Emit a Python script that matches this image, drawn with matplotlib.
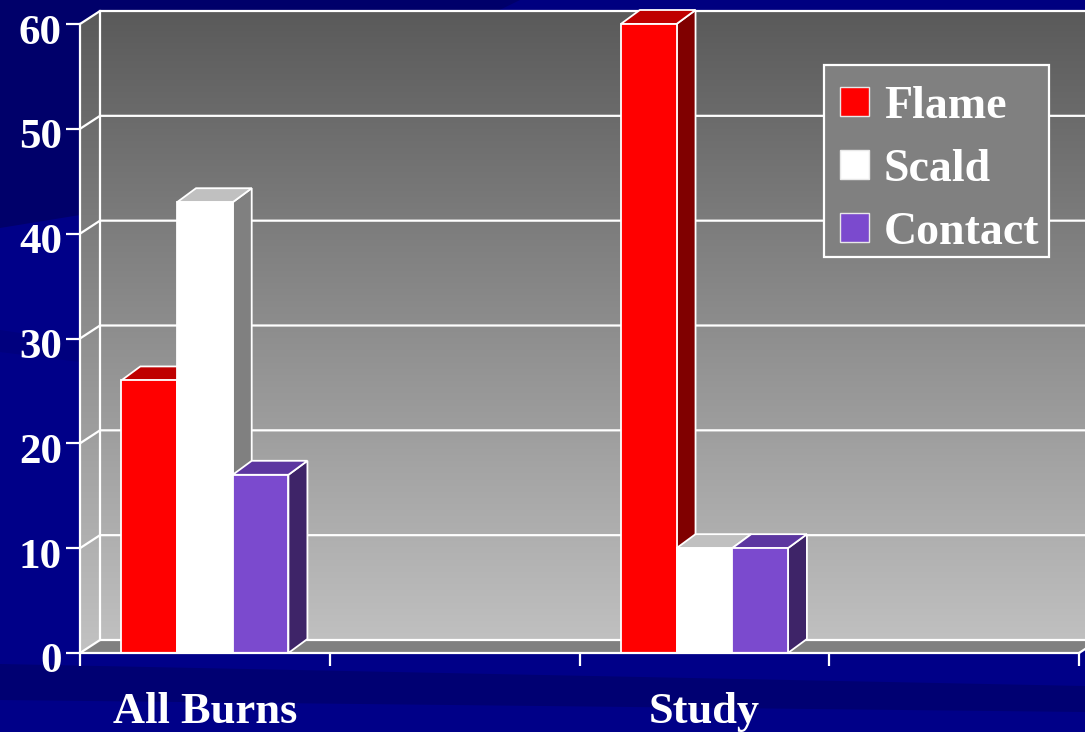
import numpy as np
import matplotlib
matplotlib.use("Agg")
import matplotlib.pyplot as plt
from matplotlib.patches import Polygon, Rectangle
from matplotlib.colors import LinearSegmentedColormap
from matplotlib.transforms import Affine2D

# ---- data ----
categories = ["All Burns", "Study"]
series = ["Flame", "Scald", "Contact"]
flame = [26, 60]
scald = [43, 10]
contact = [17, 10]
yticks = [0, 10, 20, 30, 40, 50, 60]

# ---- styling ----
W, H, DPI = 1085, 732, 100
FONT = "Liberation Serif"
front_colors = ["#FF0000", "#FFFFFF", "#7B4ACE"]
top_colors = ["#BF0000", "#C0C0C0", "#5C36A0"]
side_colors = ["#800000", "#808080", "#3E2468"]
values = [flame, scald, contact]

fig = plt.figure(figsize=(W / DPI, H / DPI), dpi=DPI)
fig.patch.set_facecolor("#000088")


def fpx(pts):
    """pixel (x right, y down) -> figure fraction"""
    return [(x / W, 1 - y / H) for x, y in pts]


# background streaks
for pts, col in [
    ([(0, 0), (1085, 0), (1085, 12), (0, 12)], "#000080"),
    ([(0, 0), (520, 0), (80, 215), (0, 228)], "#00006A"),
    ([(0, 330), (80, 342), (80, 362), (0, 352)], "#00007E"),
    ([(0, 664), (1085, 686), (1085, 712), (0, 700)], "#000072"),
]:
    fig.add_artist(Polygon(fpx(pts), closed=True, facecolor=col,
                           edgecolor="none", transform=fig.transFigure, zorder=-5))

ax = fig.add_axes([80 / W, (H - 653) / H, 999 / W, 629 / H])
ax.set_autoscale_on(False)
ax.set_xlim(-0.5, 3.5)
ax.set_ylim(0, 60)
ax.patch.set_visible(False)

DX, DY = 20, 13      # wall depth, pixels
BDX, BDY = 19, 14    # bar depth, pixels


def shift(x, y, dx, dy):
    X, Y = ax.transData.transform((x, y))
    return tuple(ax.transData.inverted().transform((X + dx, Y + dy)))


XR = 3.62  # right end of back wall (runs off the edge)
b00 = shift(-0.5, 0, DX, DY)
b060 = shift(-0.5, 60, DX, DY)
bR0 = shift(XR, 0, DX, DY)
bR60 = shift(XR, 60, DX, DY)

# gradient walls (side + back)
grad = np.linspace(0, 1, 256).reshape(-1, 1)
cmap = LinearSegmentedColormap.from_list("wall", ["#5A5A5A", "#C2C2C2"])
im = ax.imshow(grad, extent=[-0.5, bR60[0], 0, b060[1]], origin="upper",
               aspect="auto", cmap=cmap, zorder=0, interpolation="bilinear")
wall = Polygon([(-0.5, 0), (-0.5, 60), b060, bR60, bR0, b00], closed=True,
               transform=ax.transData, facecolor="none", edgecolor="none")
im.set_clip_path(wall)
im.set_clip_box(fig.bbox)

# floor
ax.add_patch(Polygon([(-0.5, 0), (3.5, 0), shift(3.5, 0, DX, DY), b00],
                     closed=True, facecolor="#808080", edgecolor="none",
                     zorder=1, clip_on=False))

# gridlines on side and back walls
lw = 1.6
for v in yticks:
    p = shift(-0.5, v, DX, DY)
    q = shift(XR, v, DX, DY)
    ax.plot([-0.5, p[0], q[0]], [v, p[1], q[1]], color="white", lw=lw,
            zorder=2, clip_on=False, solid_joinstyle="miter")
ax.plot([b00[0], b060[0]], [b00[1], b060[1]], color="white", lw=lw,
        zorder=2, clip_on=False)
fr = shift(3.5, 0, DX, DY)
ax.plot([3.5, fr[0]], [0, fr[1]], color="white", lw=lw, zorder=2, clip_on=False)

# bars
slots = [0, 2]
w = 0.223
z = 3.0
for i, slot in enumerate(slots):
    for j in range(len(series)):
        v = values[j][i]
        xc = slot + (j - 1) * w
        x0, x1 = xc - w / 2, xc + w / 2
        side = [(x1, 0), (x1, v), shift(x1, v, BDX, BDY), shift(x1, 0, BDX, BDY)]
        top = [(x0, v), (x1, v), shift(x1, v, BDX, BDY), shift(x0, v, BDX, BDY)]
        ax.add_patch(Polygon(side, closed=True, facecolor=side_colors[j],
                             edgecolor="white", lw=1.3, zorder=z, clip_on=False))
        ax.add_patch(Polygon(top, closed=True, facecolor=top_colors[j],
                             edgecolor="white", lw=1.3, zorder=z + 0.01,
                             clip_on=False, joinstyle="miter"))
        ax.bar(xc, v, width=w, color=front_colors[j], edgecolor="white",
               lw=1.3, zorder=z + 0.02, clip_on=False)
        z += 0.1

# axes, ticks, labels
for s in ["top", "right"]:
    ax.spines[s].set_visible(False)
for s in ["left", "bottom"]:
    ax.spines[s].set_color("white")
    ax.spines[s].set_linewidth(lw)
    ax.spines[s].set_zorder(10)

ax.set_yticks(yticks, [str(t) for t in yticks])
ax.tick_params(axis="y", length=10, width=lw, color="white", pad=3,
               labelcolor="white", labelsize=31)
for lab in ax.get_yticklabels():
    lab.set_fontfamily(FONT)
    lab.set_fontweight("bold")

ax.set_xticks(slots, categories)
ax.set_xticks([-0.5, 0.5, 1.5, 2.5, 3.5], minor=True)
ax.tick_params(axis="x", which="major", length=0, pad=28,
               labelcolor="white", labelsize=32)
ax.tick_params(axis="x", which="minor", length=9, width=lw, color="white",
               direction="out")
for lab in ax.get_xticklabels():
    lab.set_fontfamily(FONT)
    lab.set_fontweight("bold")

# value labels sit a little below their tick marks
for tick in ax.yaxis.get_major_ticks():
    tick.label1.set_transform(tick.label1.get_transform()
                              + Affine2D().translate(0, -5))

# legend box
lx0, ly0, lx1, ly1 = 824, 65, 1049, 257
fig.add_artist(Rectangle((lx0 / W, 1 - ly1 / H), (lx1 - lx0) / W,
                         (ly1 - ly0) / H, transform=fig.transFigure,
                         facecolor="#808080", edgecolor="white", lw=1.6,
                         zorder=20))
rows = [87, 150, 213]
for name, col, ry in zip(series, front_colors, rows):
    fig.add_artist(Rectangle((840 / W, 1 - (ry + 29) / H), 29 / W, 29 / H,
                             transform=fig.transFigure, facecolor=col,
                             edgecolor="#E8E8E8", lw=1.0, zorder=21))
    fig.text(884 / W, 1 - (ry + 31) / H, name, color="white", fontsize=33,
             fontfamily=FONT, fontweight="bold", va="baseline", ha="left",
             zorder=22)

fig.savefig("out.png", dpi=DPI, facecolor=fig.get_facecolor())
